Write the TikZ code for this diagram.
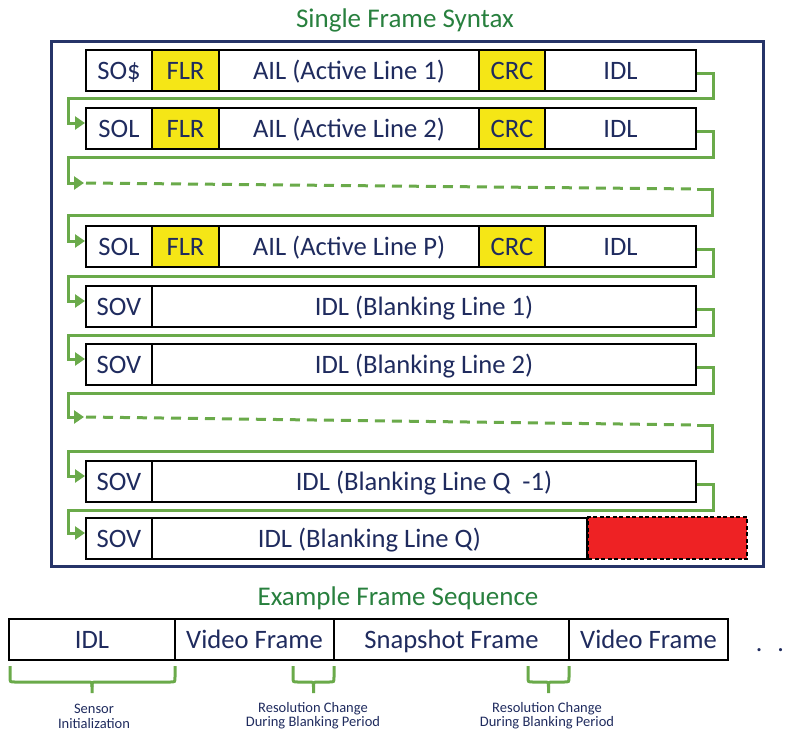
\documentclass[tikz,border=0pt]{standalone}
\usepackage{fontspec}
\setmainfont{Carlito}
\usetikzlibrary{arrows.meta}
\definecolor{navytext}{RGB}{31,43,94}
\definecolor{navyline}{RGB}{38,52,104}
\definecolor{titlegreen}{RGB}{40,128,62}
\definecolor{conngreen}{RGB}{106,170,74}
\definecolor{cellyellow}{RGB}{245,230,22}
\definecolor{blankred}{RGB}{238,34,36}
\tikzset{
  cell/.style={draw=black, line width=2pt, inner sep=0pt, minimum height=41pt,
    text=navytext, font=\fontsize{26.6}{28}\selectfont, text height=18pt, text depth=0pt},
  ycell/.style={cell, fill=cellyellow},
  conn/.style={draw=conngreen, line width=3pt},
  arr/.style={conn, -{Triangle[length=10pt,width=13pt]}},
  dconn/.style={conn, dash pattern=on 10pt off 7pt},
  ttl/.style={text=titlegreen, font=\fontsize{27}{29}\selectfont, inner sep=0pt},
  brace/.style={draw=conngreen, line width=3pt},
  lbl/.style={text=navytext, font=\fontsize{14.5}{14.5}\selectfont, align=center, inner sep=0pt}
}
\begin{document}
\begin{tikzpicture}[x=1pt,y=-1pt]
\useasboundingbox (0,0) rectangle (799,731);
% titles
\node[ttl] (t1) at (405,20) {Single Frame Syntax};
\node[ttl] (t2) at (398,598) {Example Frame Sequence};
% outer frame
\node[draw=navyline, line width=3pt, minimum width=712pt, minimum height=525pt, inner sep=0pt] (frame) at (407,304) {};
% row 1
\node[cell, minimum width=66pt] (so1) at (119,70.5) {SO\$};
\node[ycell, minimum width=67pt] (flr1) at (185.5,70.5) {FLR};
\node[cell, minimum width=260pt] (ail1) at (349,70.5) {AIL (Active Line 1)};
\node[ycell, minimum width=66pt] (crc1) at (512,70.5) {CRC};
\node[cell, minimum width=151pt] (idl1) at (620.5,70.5) {IDL};
% row 2
\node[cell, minimum width=66pt] (sol2) at (119,128.5) {SOL};
\node[ycell, minimum width=67pt] (flr2) at (185.5,128.5) {FLR};
\node[cell, minimum width=260pt] (ail2) at (349,128.5) {AIL (Active Line 2)};
\node[ycell, minimum width=66pt] (crc2) at (512,128.5) {CRC};
\node[cell, minimum width=151pt] (idl2) at (620.5,128.5) {IDL};
% row P
\node[cell, minimum width=66pt] (solP) at (119,246.5) {SOL};
\node[ycell, minimum width=67pt] (flrP) at (185.5,246.5) {FLR};
\node[cell, minimum width=260pt] (ailP) at (349,246.5) {AIL (Active Line P)};
\node[ycell, minimum width=66pt] (crcP) at (512,246.5) {CRC};
\node[cell, minimum width=151pt] (idlP) at (620.5,246.5) {IDL};
% blanking rows
\node[cell, minimum width=66pt] (sovB1) at (119,306.5) {SOV};
\node[cell, minimum width=544pt] (idlB1) at (424,306.5) {IDL (Blanking Line 1)};
\node[cell, minimum width=66pt] (sovB2) at (119,364.5) {SOV};
\node[cell, minimum width=544pt] (idlB2) at (424,364.5) {IDL (Blanking Line 2)};
\node[cell, minimum width=66pt] (sovQ1) at (119,481.5) {SOV};
\node[cell, minimum width=544pt] (idlQ1) at (424,481.5) {IDL (Blanking Line Q\ \ -1)};
\node[cell, minimum width=66pt] (sovQ) at (119,538.5) {SOV};
\node[cell, minimum width=435pt] (idlQ) at (369.5,538.5) {IDL (Blanking Line Q)};
\node[draw=black, line width=1.5pt, dash pattern=on 4pt off 2.5pt, fill=blankred, inner sep=0pt,
  minimum width=159pt, minimum height=42pt] (red) at (667.5,538) {};
% connectors
\draw[arr] ([yshift=-2.5pt]idl1.east) -- ++(16,0) |- (68,98) |- ([yshift=5.5pt]sol2.west);
\coordinate (d1a) at (84,183);
\coordinate (d1b) at (697,189);
\coordinate (d2a) at (84,417);
\coordinate (d2b) at (697,425);
\draw[arr] ([yshift=-2.5pt]idl2.east) -- ++(16,0) |- (68,157) |- (d1a);
\draw[dconn] ([xshift=2pt]d1a) -- (d1b);
\draw[arr] (d1b) -- (712,189) |- (68,215) |- ([yshift=5.5pt]solP.west);
\draw[arr] ([yshift=-2.5pt]idlP.east) -- ++(16,0) |- (68,276) |- ([yshift=5.5pt]sovB1.west);
\draw[arr] ([yshift=-2.5pt]idlB1.east) -- ++(16,0) |- (68,335) |- ([yshift=5.5pt]sovB2.west);
\draw[arr] ([yshift=-2.5pt]idlB2.east) -- ++(16,0) |- (68,393) |- (d2a);
\draw[dconn] ([xshift=2pt]d2a) -- (d2b);
\draw[arr] (d2b) -- (712,425) |- (68,451) |- ([yshift=5.5pt]sovQ1.west);
\draw[arr] ([yshift=-2.5pt]idlQ1.east) -- ++(16,0) |- (68,510) |- ([yshift=5.5pt]sovQ.west);
% sequence
\node[cell, minimum width=166pt] (sIDL) at (92,639.5) {IDL};
\node[cell, minimum width=159pt] (sV1) at (254.5,639.5) {Video Frame};
\node[cell, minimum width=235pt] (sS) at (451.5,639.5) {Snapshot Frame};
\node[cell, minimum width=159pt] (sV2) at (648.5,639.5) {Video Frame};
\node[text=navytext, font=\fontsize{26}{28}\selectfont, inner sep=0pt, anchor=base] (dots) at (770,651) {.\hspace{15pt}.};
% braces
\draw[brace] (10,666) -- (10,677) .. controls (10,682) .. (15,682) -- (87,682) .. controls (92,682) .. (92,687) -- (92,693);
\draw[brace] (175,666) -- (175,677) .. controls (175,682) .. (170,682) -- (97,682) .. controls (92,682) .. (92,687);
\draw[brace] (293,666) -- (293,677) .. controls (293,682) .. (298,682) -- (308.5,682) .. controls (313.5,682) .. (313.5,687) -- (313.5,693);
\draw[brace] (334,666) -- (334,677) .. controls (334,682) .. (329,682) -- (318.5,682) .. controls (313.5,682) .. (313.5,687);
\draw[brace] (528,666) -- (528,677) .. controls (528,682) .. (533,682) -- (543.5,682) .. controls (548.5,682) .. (548.5,687) -- (548.5,693);
\draw[brace] (569,666) -- (569,677) .. controls (569,682) .. (564,682) -- (553.5,682) .. controls (548.5,682) .. (548.5,687);
% labels
\node[lbl] (l1) at (94,716.5) {Sensor\\Initialization};
\node[lbl] (l2) at (313,715.5) {Resolution Change\\During Blanking Period};
\node[lbl] (l3) at (547,715.5) {Resolution Change\\During Blanking Period};
\end{tikzpicture}
\end{document}
